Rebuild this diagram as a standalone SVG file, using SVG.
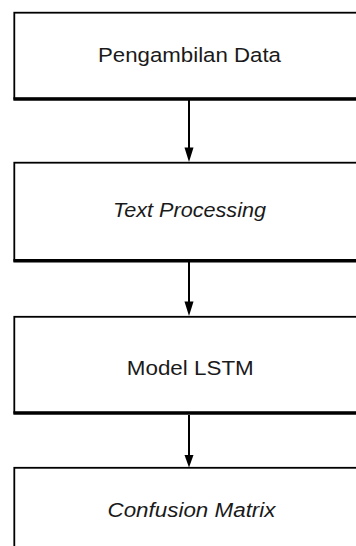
<svg xmlns="http://www.w3.org/2000/svg" width="356" height="546" viewBox="0 0 356 546">
  <defs>
    <style>
      .box { fill: #ffffff; stroke: #000000; stroke-width: 1.8; }
      .base { stroke: #000000; stroke-width: 3.5; fill: none; }
      .lbl { font-family: "Liberation Sans", Arial, sans-serif; font-size: 20.5px; fill: #1a1a1a; text-anchor: middle; }
      .it { font-style: italic; }
      .conn { stroke: #000000; stroke-width: 2; fill: none; }
      .head { fill: #000000; }
    </style>
  </defs>
  <rect width="356" height="546" fill="#ffffff"/>
  <g id="connectors">
    <line class="conn" x1="189" y1="100" x2="189" y2="148"/>
    <path class="head" d="M184.5,147.5 L193.5,147.5 L189,162 Z"/>
    <line class="conn" x1="189" y1="262" x2="189" y2="302"/>
    <path class="head" d="M184.5,301.5 L193.5,301.5 L189,316 Z"/>
    <line class="conn" x1="189" y1="415" x2="189" y2="455"/>
    <path class="head" d="M184.5,455 L193.5,455 L189,467.5 Z"/>
  </g>
  <g id="node1">
    <rect class="box" x="14.3" y="12.7" width="360" height="86"/>
    <line class="base" x1="13.4" y1="99" x2="370" y2="99"/>
    <text class="lbl" x="189.5" y="62" textLength="183" lengthAdjust="spacingAndGlyphs">Pengambilan Data</text>
  </g>
  <g id="node2">
    <rect class="box" x="14.3" y="162.7" width="360" height="98"/>
    <line class="base" x1="13.4" y1="260.7" x2="370" y2="260.7"/>
    <text class="lbl it" x="189.5" y="217" textLength="153" lengthAdjust="spacingAndGlyphs">Text Processing</text>
  </g>
  <g id="node3">
    <rect class="box" x="14.3" y="316.8" width="360" height="96"/>
    <line class="base" x1="13.4" y1="413" x2="370" y2="413"/>
    <text class="lbl" x="190.3" y="374.5" textLength="127" lengthAdjust="spacingAndGlyphs">Model LSTM</text>
  </g>
  <g id="node4">
    <rect class="box" x="14.3" y="467.8" width="360" height="100"/>
    <text class="lbl it" x="191.5" y="516.5" textLength="168" lengthAdjust="spacingAndGlyphs">Confusion Matrix</text>
  </g>
</svg>
